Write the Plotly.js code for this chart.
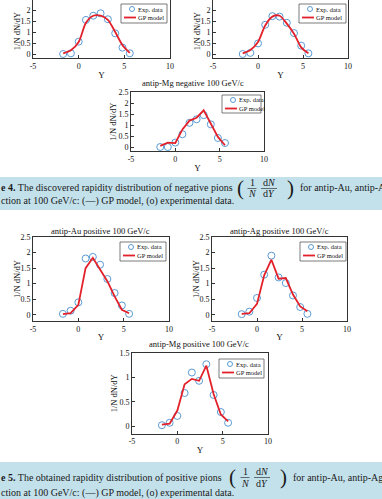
<!DOCTYPE html>
<html><head><meta charset="utf-8">
<script src="https://cdn.plot.ly/plotly-3.0.1.min.js"></script>
<style>html,body{margin:0;padding:0;background:#fff}#chart{width:382px;height:499px}</style>
</head><body><div id="chart"></div>
<script>
// ---- data ----
const rapidityY = [-1.7, -0.85, 0, 0.8, 1.6, 2.4, 3.2, 4.0, 4.8, 5.6];
const auNegExp = [0, 0.03, 0.56, 1.55, 1.74, 1.85, 1.58, 0.94, 0.29, 0.03];
const auNegGP  = [0.03, 0.17, 0.55, 1.42, 1.74, 1.74, 1.55, 1.0, 0.4, 0.05];
const agNegExp = [0, 0.05, 0.48, 1.33, 1.72, 1.7, 1.42, 0.95, 0.38, 0.03];
const agNegGP  = [0.03, 0.18, 0.55, 1.3, 1.7, 1.74, 1.38, 0.92, 0.3, 0.03];
const mgNegExp = [0, 0, 0.2, 0.58, 1.1, 1.26, 1.45, 1.03, 0.41, 0.18];
const mgNegGP  = [0.05, 0.2, 0.18, 0.8, 1.2, 1.33, 1.67, 1.07, 0.46, 0.08];
const auPosExp = [0.03, 0.13, 0.4, 1.81, 1.86, 1.61, 1.15, 0.7, 0.3, 0.03];
const auPosGP  = [0.02, 0.05, 0.32, 1.5, 1.83, 1.45, 1.08, 0.59, 0.16, 0.05];
const agPosExp = [0.02, 0.1, 0.54, 1.29, 1.9, 1.2, 1.02, 0.62, 0.25, 0.03];
const agPosGP  = [0.03, 0.05, 0.35, 1.27, 1.77, 1.16, 1.18, 0.65, 0.27, 0.11];
const mgPosExp = [0.02, 0.07, 0.21, 0.68, 1.1, 0.93, 1.27, 0.64, 0.29, 0.07];
const mgPosGP  = [0.03, 0.05, 0.32, 0.86, 0.97, 0.93, 1.24, 0.66, 0.24, 0.1];
const xTickVals = [-5, 0, 5, 10];
const xTickText = ['-5', '0', '5', '10'];
const yTickVals = [0, 0.5, 1, 1.5, 2, 2.5];
const yTickText = ['0', '0.5', '1', '1.5', '2', '2.5'];
const panelTitles = ['', '', 'antip-Mg negative 100 GeV/c', 'antip-Au positive 100 GeV/c', 'antip-Ag positive 100 GeV/c', 'antip-Mg positive 100 GeV/c'];
const legendLabels = ['Exp. data', 'GP model'];
const xTitle = 'Y';
const yTitle = '1/N dN/dY';

// ---- layout helpers ----
const W = 382, H = 499;
const F = 'Liberation Serif';
const X = p => p / W;
const Yp = p => 1 - p / H;
const EXP_COLOR = '#5a9bd4';
const GP_COLOR = '#e3212b';

const panels = [
  {exp: auNegExp, gp: auNegGP, xpx: [33, 170], ypx: [0, 58.4], yr: [-0.2, 2.455], top: false, spline: true, leg: [121, 4, 167, 23], ytx: 17},
  {exp: agNegExp, gp: agNegGP, xpx: [213, 348], ypx: [0, 58.4], yr: [-0.2, 2.455], top: false, spline: true, leg: [299, 4, 346, 23], ytx: 197},
  {exp: mgNegExp, gp: mgNegGP, xpx: [131, 264], ypx: [92, 151.4], yr: [-0.2, 2.5], top: true, spline: false, leg: [222, 95, 261, 113], tpx: [193, 83], ytx: 113},
  {exp: auPosExp, gp: auPosGP, xpx: [33, 169], ypx: [237, 321], yr: [-0.2, 2.5], top: true, spline: false, leg: [120, 242, 166, 261], tpx: [100, 231], ytx: 17},
  {exp: agPosExp, gp: agPosGP, xpx: [212, 347], ypx: [237, 321], yr: [-0.2, 2.5], top: true, spline: false, leg: [300, 242, 346, 261], tpx: [279, 231], ytx: 196},
  {exp: mgPosExp, gp: mgPosGP, xpx: [132, 268], ypx: [353, 433.5], yr: [-0.15, 1.5], top: true, spline: false, leg: [219, 359, 264, 378], tpx: [199, 344], ytx: 114},
];

const data = [];
const layout = {
  width: W, height: H, margin: {l: 0, r: 0, t: 0, b: 0},
  paper_bgcolor: '#fff', plot_bgcolor: '#fff', showlegend: false,
  font: {family: F, color: '#111'},
  shapes: [], annotations: []
};

panels.forEach((p, i) => {
  const s = i === 0 ? '' : String(i + 1);
  data.push({x: rapidityY, y: p.exp, xaxis: 'x' + s, yaxis: 'y' + s, type: 'scatter', mode: 'markers',
    name: legendLabels[0], marker: {symbol: 'circle-open', size: 7, color: EXP_COLOR, line: {width: 1, color: EXP_COLOR}}});
  data.push({x: rapidityY, y: p.gp, xaxis: 'x' + s, yaxis: 'y' + s, type: 'scatter', mode: 'lines',
    name: legendLabels[1], line: {color: GP_COLOR, width: 1.8, shape: p.spline ? 'spline' : 'linear', smoothing: 0.8}});
  const nTicks = p.yr[1] > 2 ? 6 : 4;
  layout['xaxis' + s] = {domain: [X(p.xpx[0]), X(p.xpx[1])], range: [-5, 10], anchor: 'y' + s,
    tickvals: xTickVals, ticktext: xTickText, ticks: 'inside', ticklen: 3, tickcolor: '#333',
    showline: true, mirror: p.top, linecolor: '#333', linewidth: 1, showgrid: false, zeroline: false,
    tickfont: {family: F, size: 8, color: '#111'}, automargin: false, fixedrange: true,
    title: {text: xTitle, font: {family: F, size: 9, color: '#111'}, standoff: 1}};
  layout['yaxis' + s] = {domain: [Yp(p.ypx[1]), Yp(p.ypx[0])], range: p.yr, anchor: 'x' + s,
    tickvals: yTickVals.slice(0, nTicks), ticktext: yTickText.slice(0, nTicks), ticks: 'inside', ticklen: 3, tickcolor: '#333',
    showline: true, mirror: true, linecolor: '#333', linewidth: 1, showgrid: false, zeroline: false,
    tickfont: {family: F, size: 8, color: '#111'}, automargin: false, fixedrange: true};
  // y-axis title placed close to the tick labels, as in the original
  layout.annotations.push({xref: 'paper', yref: 'paper', x: X(p.ytx), y: Yp((p.ypx[0] + p.ypx[1]) / 2 + (i < 2 ? 2 : 0)),
    xanchor: 'center', yanchor: 'middle', textangle: -90, text: yTitle, showarrow: false, borderpad: 0,
    font: {family: F, size: 8.5, color: '#111'}});
  if (p.tpx && panelTitles[i]) {
    layout.annotations.push({xref: 'paper', yref: 'paper', x: X(p.tpx[0]), y: Yp(p.tpx[1]), xanchor: 'center', yanchor: 'middle',
      text: panelTitles[i], showarrow: false, font: {family: F, size: 8.5, color: '#111'}});
  }
  // compact legend box, like the original
  const [a, b, c, d] = p.leg;
  layout.shapes.push({type: 'rect', xref: 'paper', yref: 'paper', x0: X(a), x1: X(c), y0: Yp(d), y1: Yp(b),
    line: {color: '#444', width: 0.7}, fillcolor: '#fff', layer: 'above'});
  const r1 = b + 5, r2 = b + 13.5;
  layout.shapes.push({type: 'circle', xref: 'paper', yref: 'paper', x0: X(a + 8.5), x1: X(a + 13.5), y0: Yp(r1 + 2.5), y1: Yp(r1 - 2.5),
    line: {color: EXP_COLOR, width: 1}, layer: 'above'});
  layout.shapes.push({type: 'line', xref: 'paper', yref: 'paper', x0: X(a + 3), x1: X(a + 15), y0: Yp(r2), y1: Yp(r2),
    line: {color: GP_COLOR, width: 1.8}, layer: 'above'});
  layout.annotations.push({xref: 'paper', yref: 'paper', x: X(a + 15.5), y: Yp(r1), xanchor: 'left', yanchor: 'middle',
    text: legendLabels[0], showarrow: false, borderpad: 0, font: {family: F, size: 6.5, color: '#111'}});
  layout.annotations.push({xref: 'paper', yref: 'paper', x: X(a + 15.5), y: Yp(r2), xanchor: 'left', yanchor: 'middle',
    text: legendLabels[1], showarrow: false, borderpad: 0, font: {family: F, size: 6.5, color: '#111'}});
});

// ---- captions ----
const captions = [
  {box: [177, 210], y1: 188, y2: 200.5, left: '<b>e 4.</b> The discovered rapidity distribution of negative pions', fx: 240, rx: 299},
  {box: [462, 499], y1: 477, y2: 492.5, left: '<b>e 5.</b> The obtained rapidity distribution of positive pions', fx: 233, rx: 292},
];
const capRight = 'for antip-Au, antip-Ag, antip-Mg';
const capLine2 = 'ction at 100 GeV/c: (\u2014) GP model, (o) experimental data.';
const CF = {family: F, size: 10, color: '#1a1a1a'};
captions.forEach(c => {
  layout.shapes.push({type: 'rect', xref: 'paper', yref: 'paper', x0: 0, x1: 1, y0: Yp(c.box[1]), y1: Yp(c.box[0]),
    line: {width: 0}, fillcolor: '#c3e1eb', layer: 'below'});
  const ann = (x, y, t, anchor, font) => layout.annotations.push({xref: 'paper', yref: 'paper', x: X(x), y: Yp(y),
    xanchor: anchor || 'left', yanchor: 'middle', text: t, showarrow: false, borderpad: 0, font: font || CF});
  ann(0, c.y1, c.left);
  ann(c.rx, c.y1, capRight);
  ann(0, c.y2, capLine2);
  // the fraction (1/N)(dN/dY) in large parentheses
  const fx = c.fx, fy = c.y1;
  const PF = {family: F, size: 21, color: '#1a1a1a'};
  ann(fx, fy - 0.5, '(', 'center', PF);
  ann(fx + 50, fy - 0.5, ')', 'center', PF);
  ann(fx + 12, fy - 5.5, '1', 'center');
  ann(fx + 12, fy + 6, '<i>N</i>', 'center');
  ann(fx + 29, fy - 5.5, 'd<i>N</i>', 'center');
  ann(fx + 29, fy + 6, 'd<i>Y</i>', 'center');
  layout.shapes.push({type: 'line', xref: 'paper', yref: 'paper', x0: X(fx + 7.5), x1: X(fx + 16.5), y0: Yp(fy + 0.5), y1: Yp(fy + 0.5), line: {color: '#1a1a1a', width: 0.6}});
  layout.shapes.push({type: 'line', xref: 'paper', yref: 'paper', x0: X(fx + 21), x1: X(fx + 37), y0: Yp(fy + 0.5), y1: Yp(fy + 0.5), line: {color: '#1a1a1a', width: 0.6}});
});

Plotly.newPlot('chart', data, layout, {staticPlot: true, displayModeBar: false});
</script></body></html>
